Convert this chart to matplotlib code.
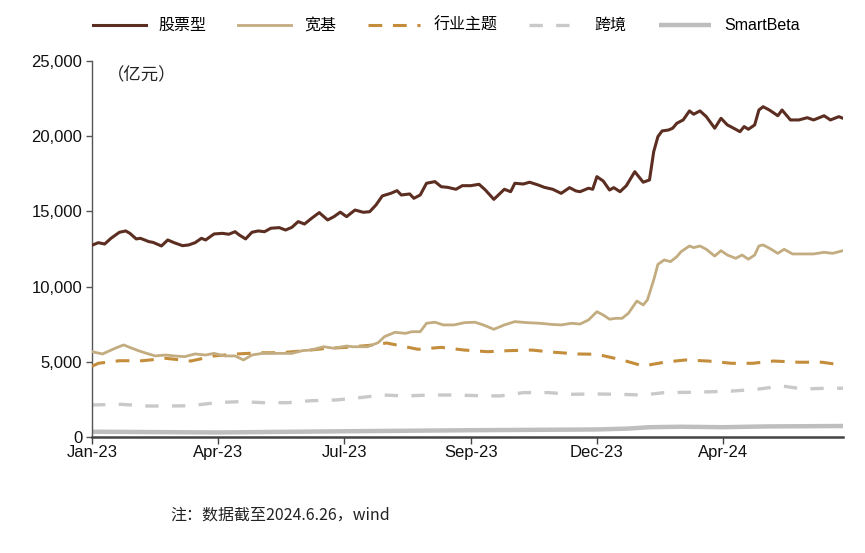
import matplotlib
matplotlib.use("Agg")
import matplotlib.pyplot as plt
from matplotlib.ticker import FuncFormatter
from matplotlib import font_manager

# ---------------- data (trading-day index from 2023-01-03, value in 亿元) ----------------
tick_pos = [0, 60, 120, 180, 240, 300]
tick_labels = ["Jan-23", "Apr-23", "Jul-23", "Sep-23", "Dec-23", "Apr-24"]

stock_day = [0, 3, 6, 9, 13, 16, 18, 21, 23, 27, 29, 33, 36, 39, 43, 46, 49, 52, 54, 58,
             62, 65, 68, 70, 73, 76, 79, 82, 85, 89, 92, 95, 98, 101, 104, 108, 112, 115,
             118, 121, 125, 129, 132, 135, 138, 142, 145, 147, 151, 153, 156, 159, 163,
             166, 169, 173, 176, 180, 184, 187, 191, 196, 199, 201, 205, 208, 212, 215,
             219, 223, 227, 230, 232, 236, 238, 240, 243, 246, 248, 251, 254, 258, 262,
             265, 267, 269, 271, 274, 276, 278, 281, 284, 286, 289, 292, 296, 299, 302,
             305, 308, 310, 312, 315, 317, 319, 322, 326, 328, 332, 336, 340, 343, 348,
             351, 355, 357]
stock_val = [12750, 12920, 12830, 13210, 13610, 13700, 13540, 13170, 13210, 12990, 12940,
             12700, 13100, 12920, 12720, 12770, 12920, 13210, 13100, 13500, 13540, 13480,
             13650, 13430, 13170, 13610, 13700, 13650, 13880, 13920, 13760, 13940, 14320,
             14160, 14500, 14920, 14430, 14650, 14950, 14650, 15090, 14940, 14980, 15430,
             16030, 16200, 16380, 16090, 16160, 15870, 16090, 16870, 16980, 16640, 16600,
             16470, 16710, 16710, 16800, 16420, 15800, 16470, 16310, 16870, 16820, 16940,
             16760, 16600, 16470, 16200, 16580, 16360, 16310, 16540, 16470, 17310, 17020,
             16420, 16580, 16310, 16710, 17640, 16940, 17090, 18970, 19970, 20350, 20410,
             20530, 20860, 21080, 21680, 21460, 21680, 21300, 20530, 21190, 20750, 20530,
             20300, 20640, 20460, 20750, 21740, 21960, 21740, 21360, 21740, 21080, 21080,
             21230, 21080, 21360, 21080, 21300, 21190]

broad_day = [0, 5, 11, 15, 19, 22, 26, 30, 35, 39, 44, 49, 54, 58, 63, 68, 72, 76, 81, 85,
             90, 95, 100, 104, 110, 115, 121, 124, 131, 136, 139, 144, 149, 152, 156, 159,
             163, 167, 172, 177, 182, 186, 191, 196, 201, 207, 213, 218, 223, 228, 232,
             236, 240, 243, 246, 249, 252, 255, 259, 262, 264, 267, 269, 272, 275, 278,
             280, 284, 286, 289, 292, 296, 299, 302, 306, 309, 312, 315, 317, 319, 322,
             326, 329, 333, 338, 343, 348, 352, 357]
broad_val = [5670, 5520, 5900, 6120, 5900, 5740, 5560, 5390, 5450, 5390, 5340, 5520, 5450,
             5560, 5390, 5390, 5120, 5450, 5560, 5560, 5560, 5560, 5740, 5780, 6000, 5900,
             6050, 6000, 6000, 6270, 6670, 6960, 6890, 7000, 7000, 7560, 7630, 7450, 7450,
             7600, 7630, 7450, 7160, 7450, 7670, 7600, 7560, 7490, 7450, 7560, 7510, 7780,
             8330, 8110, 7830, 7890, 7890, 8230, 9040, 8780, 9110, 10440, 11480, 11770,
             11660, 11990, 12320, 12700, 12590, 12700, 12480, 12030, 12390, 12100, 11880,
             12100, 11820, 12100, 12700, 12770, 12550, 12210, 12480, 12170, 12170, 12170,
             12280, 12210, 12390]

sector_day = [0, 3, 13, 24, 35, 47, 58, 69, 80, 90, 101, 112, 120, 134, 140, 155, 166, 177,
              188, 198, 209, 220, 231, 240, 252, 262, 272, 282, 293, 304, 314, 324, 336,
              347, 356]
sector_val = [4700, 4900, 5070, 5070, 5230, 5050, 5390, 5520, 5600, 5600, 5740, 5900, 5950,
              6120, 6250, 5830, 5960, 5780, 5670, 5740, 5780, 5630, 5520, 5500, 5120, 4720,
              4970, 5120, 5050, 4900, 4900, 5050, 4970, 4970, 4790]

cross_day = [0, 14, 26, 37, 47, 59, 70, 82, 93, 104, 116, 127, 138, 149, 161, 172, 183,
             194, 205, 217, 228, 239, 250, 262, 272, 284, 295, 305, 316, 328, 338, 349, 357]
cross_val = [2130, 2170, 2060, 2060, 2080, 2280, 2350, 2280, 2280, 2410, 2460, 2610, 2790,
             2730, 2790, 2790, 2750, 2730, 2950, 2950, 2840, 2860, 2840, 2790, 2950, 2970,
             3010, 3060, 3170, 3390, 3190, 3240, 3240]

smart_day = [0, 60, 120, 180, 240, 255, 265, 280, 300, 320, 357]
smart_val = [350, 300, 380, 450, 500, 560, 650, 680, 650, 700, 730]

series_names = ["股票型", "宽基", "行业主题", "跨境", "SmartBeta"]
unit_label = "（亿元）"
note_text = "注：数据截至2024.6.26，wind"

# ---------------- fonts ----------------
avail = {f.name for f in font_manager.fontManager.ttflist}
narrow = "Liberation Sans Narrow" if "Liberation Sans Narrow" in avail else "Liberation Sans"
fam = [narrow, "Noto Sans CJK SC", "DejaVu Sans"]
cjk = ["Noto Sans CJK SC", "DejaVu Sans"]
plt.rcParams["font.family"] = fam

# ---------------- figure ----------------
fig = plt.figure(figsize=(8.65, 5.53), dpi=100)
ax = fig.add_axes([0.1064, 0.2098, 0.8682, 0.6799])

ax.plot(smart_day, smart_val, color="#BEBEBE", lw=3.2, solid_capstyle="butt",
        label=series_names[4], zorder=1)
ax.plot(cross_day, cross_val, color="#C9C9C9", lw=2.4, dashes=(4, 4),
        label=series_names[3], zorder=2)
ax.plot(sector_day, sector_val, color="#C38D3B", lw=2.2, dashes=(4.5, 3.5),
        label=series_names[2], zorder=3)
ax.plot(broad_day, broad_val, color="#C2AC80", lw=2.0, label=series_names[1], zorder=4)
ax.plot(stock_day, stock_val, color="#5B2E21", lw=2.2, label=series_names[0], zorder=5)

ax.set_xlim(0, 357)
ax.set_ylim(0, 25000)
ax.set_xticks(tick_pos)
ax.set_xticklabels(tick_labels)
ax.set_yticks(range(0, 25001, 5000))
ax.yaxis.set_major_formatter(FuncFormatter(lambda v, p: f"{int(v):,}"))

for s in ["top", "right"]:
    ax.spines[s].set_visible(False)
ax.spines["left"].set_color("#555555")
ax.spines["left"].set_linewidth(1.0)
ax.spines["bottom"].set_color("#444444")
ax.spines["bottom"].set_linewidth(1.8)
ax.tick_params(axis="y", length=4, width=1, color="#555555", labelsize=12, pad=3,
               labelcolor="#111111")
ax.tick_params(axis="x", length=5, width=1, color="#444444", labelsize=12, pad=1,
               labelcolor="#111111")

ax.text(0.02, 0.985, unit_label, transform=ax.transAxes, ha="left", va="top",
        fontsize=12.5, family=cjk, color="#222222")

# legend ordering as in reference
handles, labels = ax.get_legend_handles_labels()
order = [labels.index(n) for n in series_names]
leg = fig.legend([handles[i] for i in order], [labels[i] for i in order],
                 loc="upper center", bbox_to_anchor=(0.516, 0.995), ncol=5, frameon=False,
                 fontsize=11.5, handlelength=3.3, columnspacing=2.0, handletextpad=0.8)
for t in leg.get_texts():
    t.set_family(fam if t.get_text() == "SmartBeta" else cjk)

fig.text(0.197, 0.068, note_text, ha="left", va="center", fontsize=11.5, family=cjk,
         color="#222222")

fig.savefig("out.png", dpi=100)
